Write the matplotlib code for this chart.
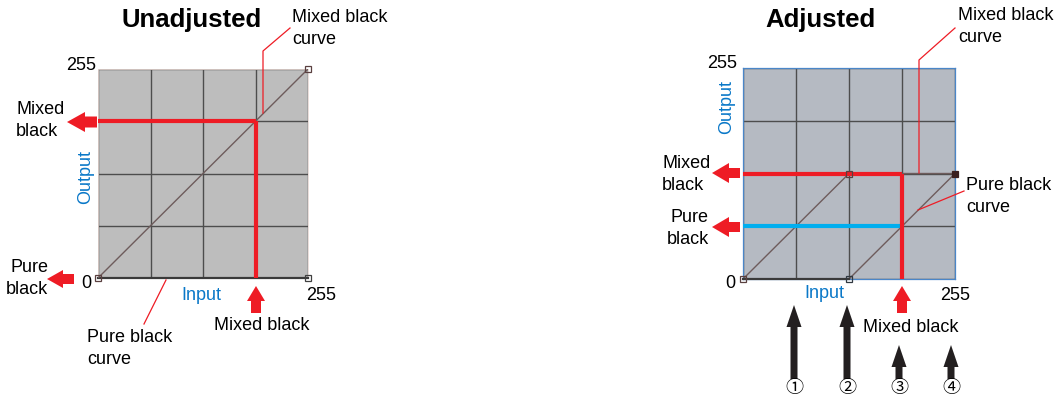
import matplotlib
matplotlib.use('Agg')
import matplotlib.pyplot as plt
from matplotlib import patches

plt.rcParams['font.family'] = ['Liberation Sans', 'DejaVu Sans']

# curve data (input -> output, 0..255)
levels = [0, 63.75, 127.5, 191.25, 255]
unadj_mixed_x = [0, 255]
unadj_mixed_y = [0, 255]
unadj_pure_x = [0, 255]
unadj_pure_y = [0, 0]
adj_mixed_x = [0, 127.5, 255]
adj_mixed_y = [0, 127.5, 127.5]
adj_pure_x = [0, 127.5, 255]
adj_pure_y = [0, 0, 127.5]
mixed_input = 191.25
unadj_mixed_out = 191.25
adj_mixed_out = 127.5
adj_pure_out = 63.75

RED = '#ee1c25'
CYAN = '#00aeef'
BLUE_TXT = '#0a78c8'
CURVE = '#6e5c5c'
GRID = '#4d4d4d'
FS = 13


def setup_panel(ax, bg, edge=None):
    ax.set_xlim(0, 255)
    ax.set_ylim(0, 255)
    ax.set_facecolor(bg)
    ax.set_xticks(levels)
    ax.set_yticks(levels)
    ax.set_xticklabels([])
    ax.set_yticklabels([])
    ax.tick_params(length=0)
    ax.grid(True, color=GRID, linewidth=1.0)
    ax.set_axisbelow(True)
    for sp in ax.spines.values():
        if edge:
            sp.set_color(edge)
            sp.set_linewidth(0.9)
        else:
            sp.set_color('#e8d8d4')
            sp.set_linewidth(0.6)


def end_marker(ax, x, y, fc='none', ec='#5a4040'):
    ax.plot([x], [y], marker='s', markersize=4.5, markerfacecolor=fc,
            markeredgecolor=ec, markeredgewidth=0.9, clip_on=False, zorder=6)


fig = plt.figure(figsize=(10.62, 3.99), dpi=100)

# ---- unadjusted panel
ax1 = fig.add_axes([98 / 1062, 1 - 278 / 399, 210 / 1062, 209 / 399])
setup_panel(ax1, '#bdbdbd')
ax1.plot(unadj_pure_x, unadj_pure_y, color='#3a3a3a', lw=1.6, zorder=4, clip_on=False)
ax1.plot(unadj_mixed_x, unadj_mixed_y, color=CURVE, lw=1.0, zorder=4)
ax1.plot([0, mixed_input], [unadj_mixed_out, unadj_mixed_out], color=RED, lw=3, zorder=5,
         solid_capstyle='butt')
ax1.plot([mixed_input, mixed_input], [0, unadj_mixed_out], color=RED, lw=3, zorder=5,
         solid_capstyle='butt')
end_marker(ax1, 0, 0)
end_marker(ax1, 255, 255)
end_marker(ax1, 255, 0, ec='#404040')

# ---- adjusted panel
ax2 = fig.add_axes([743 / 1062, 1 - 279 / 399, 212 / 1062, 211 / 399])
setup_panel(ax2, '#b5bac2', edge='#4a86c8')
ax2.plot(adj_mixed_x, adj_mixed_y, color=CURVE, lw=1.0, zorder=4)
ax2.plot(adj_pure_x, adj_pure_y, color=CURVE, lw=1.0, zorder=4)
ax2.plot(adj_pure_x[:2], adj_pure_y[:2], color='#3a3a3a', lw=1.6, zorder=4, clip_on=False)
ax2.plot([0, mixed_input], [adj_mixed_out, adj_mixed_out], color=RED, lw=3, zorder=5,
         solid_capstyle='butt')
ax2.plot([0, mixed_input], [adj_pure_out, adj_pure_out], color=CYAN, lw=3, zorder=5,
         solid_capstyle='butt')
ax2.plot([mixed_input, mixed_input], [0, adj_mixed_out], color=RED, lw=3, zorder=5,
         solid_capstyle='butt')
end_marker(ax2, 0, 0)
end_marker(ax2, 127.5, 0, ec='#303840')
end_marker(ax2, 127.5, 127.5)
end_marker(ax2, 255, 127.5, fc='#3a2020', ec='#3a2020')

# ---- overlay in pixel coordinates for labels and arrows
ov = fig.add_axes([0, 0, 1, 1], zorder=10)
ov.set_xlim(0, 1062)
ov.set_ylim(399, 0)
ov.axis('off')
ov.patch.set_alpha(0)


def arrow(x, y, dx, dy, color, width, head_w, head_l):
    ov.add_patch(patches.FancyArrow(x, y, dx, dy, width=width, head_width=head_w,
                                    head_length=head_l, length_includes_head=True,
                                    color=color, lw=0))


def leader(xs, ys):
    ov.plot(xs, ys, color=RED, lw=0.9)


# left panel texts
ov.text(192, 20, 'Unadjusted', fontsize=18.5, fontweight='bold', ha='center', va='center')
ov.text(292, 17, 'Mixed black', fontsize=FS, ha='left', va='center')
ov.text(292, 40, 'curve', fontsize=FS, ha='left', va='center')
leader([290, 263, 263], [28, 51, 113])
ov.text(96, 65, '255', fontsize=FS, ha='right', va='center')
ov.text(16, 109, 'Mixed', fontsize=FS, ha='left', va='center')
ov.text(16, 131, 'black', fontsize=FS, ha='left', va='center')
arrow(97, 122, -30, 0, RED, 11, 20, 18)
ov.text(86, 177, 'Output', fontsize=FS, ha='center', va='center', rotation=90, color=BLUE_TXT)
ov.text(29, 268, 'Pure', fontsize=FS, ha='center', va='center')
ov.text(27, 290, 'black', fontsize=FS, ha='center', va='center')
arrow(74, 279, -27, 0, RED, 10, 18, 16)
ov.text(86, 284, '0', fontsize=FS, ha='center', va='center')
ov.text(201, 295, 'Input', fontsize=FS, ha='center', va='center', color=BLUE_TXT)
ov.text(321, 295, '255', fontsize=FS, ha='center', va='center')
arrow(256, 313, 0, -27, RED, 10, 18, 15)
ov.text(262, 325, 'Mixed black', fontsize=FS, ha='center', va='center')
ov.text(87, 338, 'Pure black', fontsize=FS, ha='left', va='center')
ov.text(87, 360, 'curve', fontsize=FS, ha='left', va='center')
leader([166, 144], [280, 324])

# right panel texts
ov.text(820, 20, 'Adjusted', fontsize=18.5, fontweight='bold', ha='center', va='center')
ov.text(958, 16, 'Mixed black', fontsize=FS, ha='left', va='center')
ov.text(958, 38, 'curve', fontsize=FS, ha='left', va='center')
leader([955, 919, 919], [28, 60, 173])
ov.text(737, 64, '255', fontsize=FS, ha='right', va='center')
ov.text(727, 107, 'Output', fontsize=FS, ha='center', va='center', rotation=90, color=BLUE_TXT)
ov.text(662, 163, 'Mixed', fontsize=FS, ha='left', va='center')
ov.text(662, 185, 'black', fontsize=FS, ha='left', va='center')
arrow(740, 173, -28, 0, RED, 10, 20, 17)
ov.text(709, 217, 'Pure', fontsize=FS, ha='right', va='center')
ov.text(709, 239, 'black', fontsize=FS, ha='right', va='center')
arrow(740, 227, -28, 0, RED, 10, 20, 17)
ov.text(730, 284, '0', fontsize=FS, ha='center', va='center')
ov.text(824, 294, 'Input', fontsize=FS, ha='center', va='center', color=BLUE_TXT)
ov.text(955, 295, '255', fontsize=FS, ha='center', va='center')
arrow(902, 313, 0, -27, RED, 10, 18, 15)
ov.text(911, 328, 'Mixed black', fontsize=FS, ha='center', va='center')
ov.text(966, 185, 'Pure black', fontsize=FS, ha='left', va='center')
ov.text(966, 208, 'curve', fontsize=FS, ha='left', va='center')
leader([964, 918], [191, 210])

# numbered input arrows
step_x = [794, 847, 899, 951]
step_tip = [305, 305, 345, 345]
step_lbl = ['\u2460', '\u2461', '\u2462', '\u2463']
for sx, tip, lbl in zip(step_x, step_tip, step_lbl):
    arrow(sx, 379, 0, tip - 379, '#231f20', 7, 15, 22)
    ov.text(sx, 388, lbl, fontsize=13, ha='center', va='center',
            family=['Noto Sans CJK JP', 'DejaVu Sans'])

fig.savefig('out.png', dpi=100)
